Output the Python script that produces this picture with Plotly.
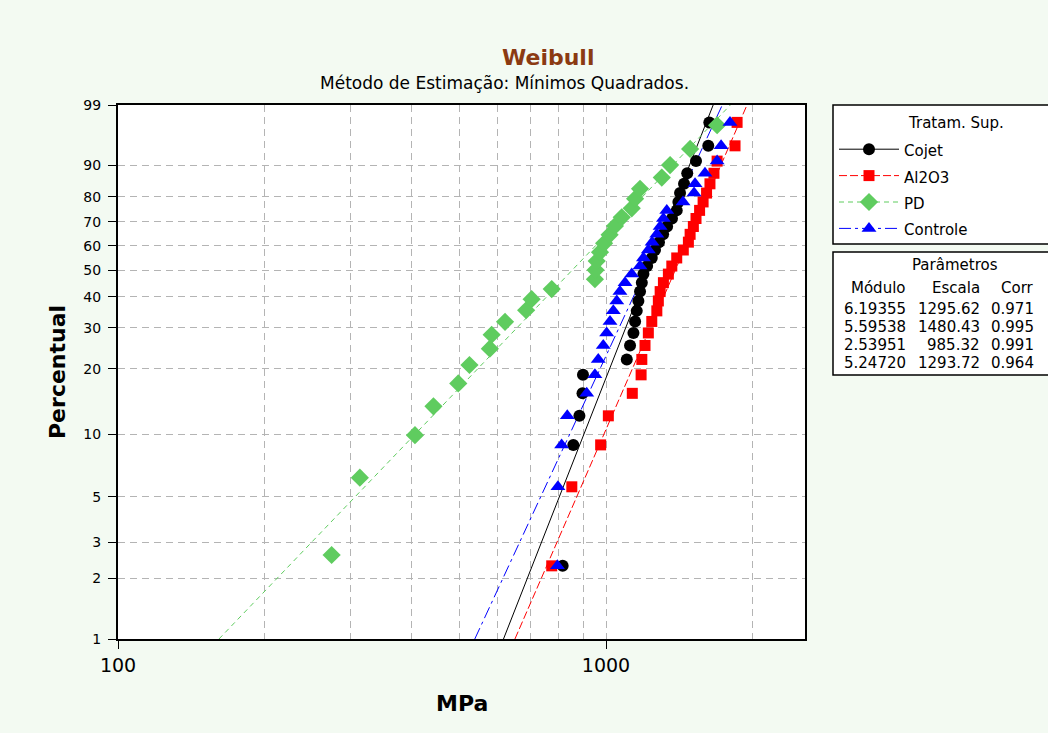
import math

import plotly.graph_objects as go

# --- values (MPa vs. cumulative percent) ---
group_names = ["Cojet", "Al2O3", "PD", "Controle"]

cojet_mpa = [815, 857, 882, 895, 897, 1103, 1120, 1138, 1147, 1156, 1165, 1174, 1184, 1193,
             1214, 1241, 1260, 1284, 1309, 1334, 1365, 1396, 1407, 1418, 1445, 1467, 1529,
             1620, 1628]
cojet_pct = [2.3, 8.9, 12.2, 15.5, 18.8, 22.0, 25.3, 28.6, 31.9, 35.2, 38.5, 41.8, 45.1, 48.4,
             51.6, 54.9, 58.2, 61.5, 64.8, 68.1, 71.4, 74.7, 78.0, 81.3, 84.5, 87.8, 91.1,
             94.4, 97.7]

al2o3_mpa = [774, 851, 975, 1011, 1132, 1180, 1184, 1202, 1221, 1241, 1271, 1280, 1291, 1311,
             1342, 1364, 1396, 1440, 1475, 1487, 1510, 1529, 1555, 1581, 1607, 1633, 1664,
             1689, 1838, 1856]
al2o3_pct = [2.3, 5.6, 8.9, 12.2, 15.5, 18.8, 22.0, 25.3, 28.6, 31.9, 35.2, 38.5, 41.8, 45.1,
             48.4, 51.6, 54.9, 58.2, 61.5, 64.8, 68.1, 71.4, 74.7, 78.0, 81.3, 84.5, 87.8,
             91.1, 94.4, 97.7]

pd_mpa = [274, 313, 406, 443, 498, 525, 578, 583, 621, 686, 704, 774, 949, 952, 957, 972, 991,
          1017, 1043, 1077, 1129, 1147, 1174, 1301, 1353, 1487, 1689]
pd_pct = [2.6, 6.2, 9.9, 13.5, 17.2, 20.8, 24.5, 28.1, 31.8, 35.4, 39.1, 42.7, 46.4, 50.0, 53.6,
          57.3, 61.0, 64.6, 68.3, 71.9, 75.5, 79.2, 82.8, 86.5, 90.1, 93.8, 97.4]

controle_mpa = [795, 797, 811, 833, 913, 949, 964, 987, 1003, 1019, 1035, 1052, 1068, 1094,
                1129, 1174, 1193, 1221, 1243, 1271, 1291, 1311, 1332, 1438, 1515, 1522, 1595,
                1689, 1721, 1795]
controle_pct = [2.3, 5.6, 8.9, 12.2, 15.5, 18.8, 22.0, 25.3, 28.6, 31.9, 35.2, 38.5, 41.8, 45.1,
                48.4, 51.6, 54.9, 58.2, 61.5, 64.8, 68.1, 71.4, 74.7, 78.0, 81.3, 84.5, 87.8,
                91.1, 94.4, 97.7]

# parameter table (least squares fit)
modulo = ["6.19355", "5.59538", "2.53951", "5.24720"]
escala = ["1295.62", "1480.43", "985.32", "1293.72"]
corr = ["0.971", "0.995", "0.991", "0.964"]

y_ticks = [1, 2, 3, 5, 10, 20, 30, 40, 50, 60, 70, 80, 90, 99]
x_ticks = [100, 1000]
x_minor = [200, 300, 400, 500, 600, 700, 800, 900, 2000]

# --- styles ---
colors = ["#000000", "#ff0000", "#5fcc5f", "#0000ff"]
symbols = ["circle", "square", "diamond", "triangle-up"]
sizes = [12, 11, 14, 13]
dashes = ["solid", "8px,3px", "5px,4px", "12px,4px,3px,4px"]
FONT = "DejaVu Sans"
BG = "#f3faf2"

# plot area in page pixels
L, R, T, B = 118, 805, 105, 639


def px_x(px):
    return (px - L) / (R - L)


def px_y(py):
    return (B - py) / (B - T)


def weib(p):
    # Weibull probability scale
    return math.log(-math.log(1 - p / 100.0))


def fit_x(shape, scale, p):
    return scale * (-math.log(1 - p / 100.0)) ** (1.0 / shape)


groups = [(cojet_mpa, cojet_pct), (al2o3_mpa, al2o3_pct), (pd_mpa, pd_pct),
          (controle_mpa, controle_pct)]

fig = go.Figure()
for k, (xs, ps) in enumerate(groups):
    shape, scale = float(modulo[k]), float(escala[k])
    fig.add_trace(go.Scatter(
        x=[fit_x(shape, scale, 1), fit_x(shape, scale, 99)],
        y=[weib(1), weib(99)],
        mode="lines", line=dict(color=colors[k], width=1, dash=dashes[k]),
        showlegend=False, hoverinfo="skip"))
for k, (xs, ps) in enumerate(groups):
    fig.add_trace(go.Scatter(
        x=xs, y=[weib(p) for p in ps], mode="markers",
        marker=dict(color=colors[k], symbol=symbols[k], size=sizes[k], line=dict(width=0)),
        showlegend=False, name=group_names[k]))
# legend entries (line + marker)
for k in range(4):
    fig.add_trace(go.Scatter(
        x=[None], y=[None], mode="lines+markers",
        name="<span style='font-size:15px'>%s</span>" % group_names[k],
        line=dict(color=colors[k], width=1, dash=dashes[k]),
        marker=dict(color=colors[k], symbol=symbols[k], size=sizes[k])))

grid = dict(gridcolor="#b4b4b4", gridwidth=1, griddash="7px,5px")
fig.update_xaxes(
    type="log", range=[2, math.log10(2557)],
    tickvals=x_ticks, ticktext=[str(v) for v in x_ticks],
    ticks="outside", ticklen=8, tickcolor="black", tickwidth=1,
    tickfont=dict(family=FONT, size=19, color="black"),
    showgrid=True, **grid,
    minor=dict(tickvals=x_minor, ticks="", showgrid=True, **grid),
    showline=True, linecolor="black", linewidth=2, mirror=True, zeroline=False)
fig.update_yaxes(
    range=[weib(1), weib(99)],
    tickvals=[weib(v) for v in y_ticks], ticktext=[str(v) for v in y_ticks],
    ticks="outside", ticklen=8, tickcolor="black", tickwidth=1,
    ticklabelstandoff=4,
    tickfont=dict(family=FONT, size=14, color="black"),
    showgrid=True, **grid,
    showline=True, linecolor="black", linewidth=2, mirror=True, zeroline=False)

shapes = [
    dict(type="rect", xref="paper", yref="paper", x0=px_x(833), x1=px_x(1080),
         y0=px_y(244), y1=px_y(105), line=dict(color="black", width=1.5),
         fillcolor="white", layer="below"),
    dict(type="rect", xref="paper", yref="paper", x0=px_x(833), x1=px_x(1080),
         y0=px_y(375), y1=px_y(252), line=dict(color="black", width=1.5),
         fillcolor="white", layer="below"),
]

ann = [
    dict(text="<b>Weibull</b>", x=px_x(548), y=px_y(57), font=dict(size=22, color="#8b3a12")),
    dict(text="Método de Estimação: Mínimos Quadrados.", x=px_x(504), y=px_y(83),
         font=dict(size=17, color="black")),
    dict(text="<b>Percentual</b>", x=px_x(57), y=0.5, textangle=-90,
         font=dict(size=22, color="black")),
    dict(text="<b>MPa</b>", x=0.5, y=px_y(703), font=dict(size=22, color="black")),
    dict(text="Tratam. Sup.", x=px_x(906), y=px_y(123), xanchor="left",
         font=dict(size=15, color="black")),
    dict(text="Parâmetros", x=px_x(955), y=px_y(265), font=dict(size=15, color="black")),
]
col_right = [908, 982, 1036]
headers = ["Módulo", "Escala", "Corr"]
for c, h in enumerate(headers):
    ann.append(dict(text=h, x=px_x(col_right[c]), y=px_y(288), xanchor="right",
                    font=dict(size=15, color="black")))
row_y = [309, 327, 345, 363]
for r in range(4):
    for c, col in enumerate([modulo, escala, corr]):
        ann.append(dict(text=col[r], x=px_x(col_right[c]), y=px_y(row_y[r]), xanchor="right",
                        font=dict(size=15, color="black")))
for a in ann:
    a.setdefault("xref", "paper")
    a.setdefault("yref", "paper")
    a.setdefault("showarrow", False)
    a.setdefault("xanchor", "center")
    a.setdefault("yanchor", "middle")
    a["font"].setdefault("family", FONT)

fig.update_layout(
    width=1048, height=733,
    margin=dict(l=L, r=1048 - R, t=T, b=733 - B),
    paper_bgcolor=BG, plot_bgcolor="white",
    font=dict(family=FONT, color="black"),
    shapes=shapes, annotations=ann,
    legend=dict(x=px_x(834), y=px_y(131), xanchor="left", yanchor="top",
                bgcolor="rgba(0,0,0,0)", borderwidth=0, itemwidth=60,
                font=dict(family=FONT, size=18, color="black"), tracegroupgap=0),
)

fig.write_html(
    "out.html",
    config={"displayModeBar": False},
    post_script="document.body.style.margin='0';document.body.style.background='%s';" % BG,
)
